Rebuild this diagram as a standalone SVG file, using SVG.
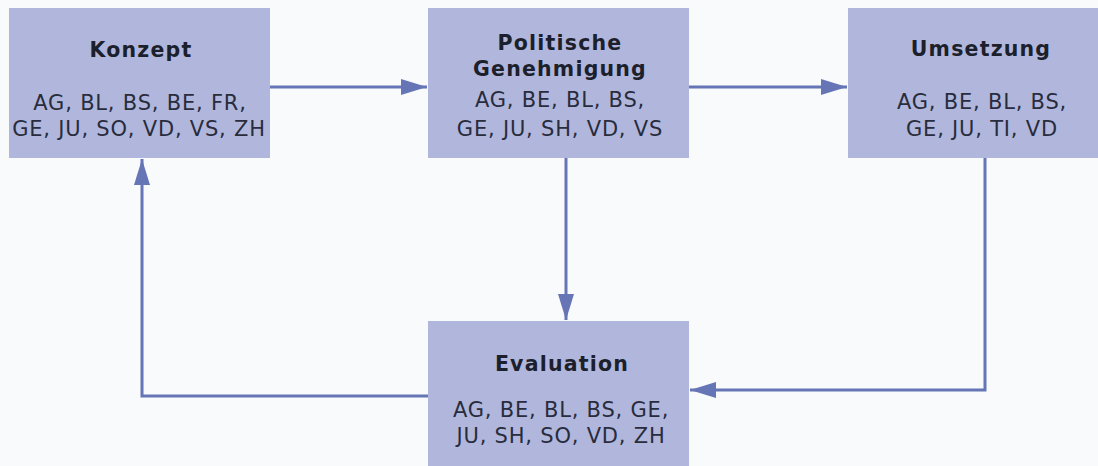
<svg xmlns="http://www.w3.org/2000/svg" width="1098" height="466" viewBox="0 0 1098 466">
<defs>
<style>
.box{fill:#b1b7dc}
.t{font-family:"DejaVu Sans","Open Sans",sans-serif;font-weight:bold;font-size:20.5px;letter-spacing:1.2px;fill:#1c1f2c;text-anchor:middle}
.l{font-family:"DejaVu Sans","Open Sans",sans-serif;font-size:21px;letter-spacing:0.8px;fill:#282c3c;text-anchor:middle}
.c{fill:none;stroke:#6675b5;stroke-width:3}
</style>
<marker id="ah" viewBox="0 0 26 16" refX="26" refY="8" markerWidth="26" markerHeight="16" markerUnits="userSpaceOnUse" orient="auto">
<path d="M0,0 L26,8 L0,16 Z" fill="#6675b5"/>
</marker>
</defs>
<rect width="1098" height="466" fill="#f9fafc"/>
<g id="connectors">
<path class="c" d="M270,87 H427" marker-end="url(#ah)"/>
<path class="c" d="M689,87 H847" marker-end="url(#ah)"/>
<path class="c" d="M566,158 V320" marker-end="url(#ah)"/>
<path class="c" d="M985,158 V390 H690" marker-end="url(#ah)"/>
<path class="c" d="M428,396 H142 V159" marker-end="url(#ah)"/>
</g>
<g id="konzept">
<rect class="box" x="9" y="8" width="261" height="150"/>
<text class="t" x="141" y="57">Konzept</text>
<text class="l" x="140" y="110">AG, BL, BS, BE, FR,</text>
<text class="l" x="139" y="136">GE, JU, SO, VD, VS, ZH</text>
</g>
<g id="politische">
<rect class="box" x="428" y="8" width="261" height="150"/>
<text class="t" x="560" y="50">Politische</text>
<text class="t" x="560" y="76">Genehmigung</text>
<text class="l" x="560" y="107">AG, BE, BL, BS,</text>
<text class="l" x="560" y="136">GE, JU, SH, VD, VS</text>
</g>
<g id="umsetzung">
<rect class="box" x="848" y="8" width="250" height="150"/>
<text class="t" x="981" y="56">Umsetzung</text>
<text class="l" x="982" y="109">AG, BE, BL, BS,</text>
<text class="l" x="982" y="136">GE, JU, TI, VD</text>
</g>
<g id="evaluation">
<rect class="box" x="428" y="321" width="261" height="145"/>
<text class="t" x="562" y="371">Evaluation</text>
<text class="l" x="561" y="417">AG, BE, BL, BS, GE,</text>
<text class="l" x="561" y="443">JU, SH, SO, VD, ZH</text>
</g>
</svg>
